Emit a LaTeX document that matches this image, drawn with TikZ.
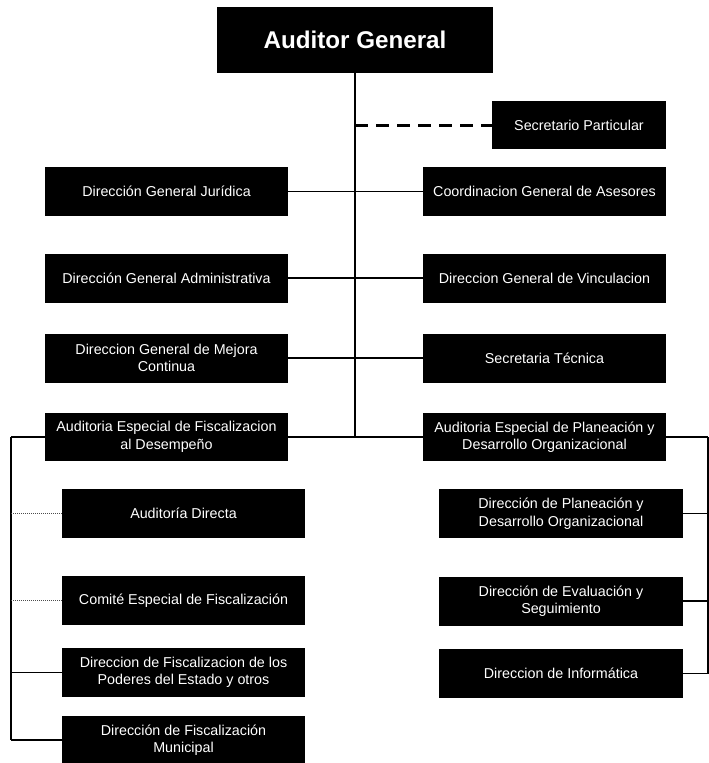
\documentclass[tikz,border=0pt]{standalone}
\usepackage{fontspec}
\setmainfont{Liberation Sans}
\begin{document}
\begin{tikzpicture}[x=1pt,y=-1pt,
  box/.style={fill=black, text=white, inner sep=0pt, outer sep=0pt,
    minimum width=243pt, minimum height=49pt, align=center,
    font=\fontsize{14.3}{17.5}\selectfont},
  topbox/.style={fill=black, text=white, inner sep=0pt, outer sep=0pt,
    minimum width=276pt, minimum height=66pt,
    font=\fontsize{24.2}{28}\selectfont\bfseries},
  conn/.style={draw=black, line width=1.7pt},
  dashconn/.style={draw=black, line width=3pt, dash pattern=on 13pt off 8pt},
  dotconn/.style={draw=black!70, line width=1pt, dash pattern=on 1pt off 1pt}]
\useasboundingbox (0,0) rectangle (709,763);
% nodes
\node[topbox] (ag) at (355,40) {Auditor General};
\node[box, minimum width=174pt, minimum height=48pt] (sp) at (579,125) {Secretario Particular};
\node[box] (dgj) at (166.5,191.5) {Dirección General Jurídica};
\node[box] (cga) at (544.5,191.5) {Coordinacion General de Asesores};
\node[box] (dga) at (166.5,278) {Dirección General Administrativa};
\node[box] (dgv) at (544.5,278) {Direccion General de Vinculacion};
\node[box] (dgm) at (166.5,358) {Direccion General de Mejora\\Continua};
\node[box] (st) at (544.5,358) {Secretaria Técnica};
\node[box, minimum height=48pt] (aef) at (166.5,437) {Auditoria Especial de Fiscalizacion\\al Desempeño};
\node[box, minimum height=48pt] (aep) at (544.5,437) {Auditoria Especial de Planeación y\\Desarrollo Organizacional};
\node[box] (ad) at (183.5,513.5) {Auditoría Directa};
\node[box] (ce) at (183.5,600.5) {Comité Especial de Fiscalización};
\node[box] (dfp) at (183.5,672.5) {Direccion de Fiscalizacion de los\\Poderes del Estado y otros};
\node[box, minimum height=48pt] (dfm) at (183.5,740) {Dirección de Fiscalización\\Municipal};
\node[box, minimum width=244pt] (dpd) at (561,513.5) {Dirección de Planeación y\\Desarrollo Organizacional};
\node[box, minimum width=244pt] (des) at (561,601) {Dirección de Evaluación y\\Seguimiento};
\node[box, minimum width=244pt] (dinf) at (561,673.5) {Direccion de Informática};
% coordinates
\coordinate (tb) at (355,437);
\coordinate (tl) at (11,437);
\coordinate (tr) at (708,437);
\coordinate (lb) at (11,740);
\coordinate (rb) at (708,673.5);
% connectors
\path[conn] (ag.south) -- (tb);
\path[dashconn] (ag.south |- sp.west) -- (sp.west);
\path[conn] (dgj.east) -- (cga.west);
\path[conn] (dga.east) -- (dgv.west);
\path[conn] (dgm.east) -- (st.west);
\path[conn] (tl) -- (aef.west);
\path[conn] (aef.east) -- (aep.west);
\path[conn] (aep.east) -- (tr);
\path[conn] (tl) -- (lb);
\path[dotconn] (tl |- ad.west) -- (ad.west);
\path[dotconn] (tl |- ce.west) -- (ce.west);
\path[conn] (tl |- dfp.west) -- (dfp.west);
\path[conn] (lb) -- (dfm.west);
\path[conn] (tr) -- (rb);
\path[conn] (dpd.east) -- (tr |- dpd.east);
\path[conn] (des.east) -- (tr |- des.east);
\path[conn] (dinf.east) -- (rb);
\end{tikzpicture}
\end{document}
